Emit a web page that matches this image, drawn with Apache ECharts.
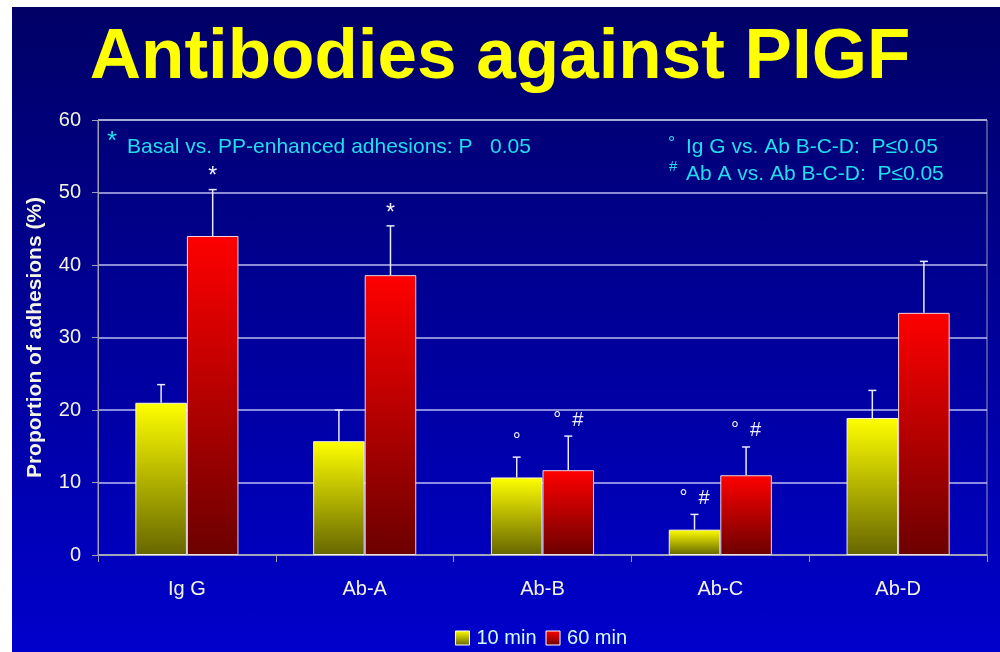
<!DOCTYPE html>
<html>
<head>
<meta charset="utf-8">
<script src="https://cdn.jsdelivr.net/npm/echarts@6/dist/echarts.min.js"></script>
<style>
html,body{margin:0;padding:0;background:#fff;width:1000px;height:652px;overflow:hidden;}
#chart{position:absolute;left:12px;top:7px;width:988px;height:645px;
background:linear-gradient(to bottom,#000066 0%,#0000cc 100%);}
</style>
</head>
<body>
<div id="chart"></div>
<script>
// ---- data ----
const categories = ['Ig G', 'Ab-A', 'Ab-B', 'Ab-C', 'Ab-D'];
const min10 = [21.0, 15.7, 10.7, 3.5, 18.9];
const min60 = [44.0, 38.6, 11.7, 11.0, 33.4];
const err10 = [2.5, 4.3, 2.8, 2.1, 3.8];
const err60 = [6.4, 6.8, 4.7, 3.9, 7.1];
const marks10 = ['', '', '°', '°  #', ''];
const marks60 = ['*', '*', '°  #', '°  #', ''];
const yTicks = [0, 10, 20, 30, 40, 50, 60];
const seriesNames = ['10 min', '60 min'];

const BAR_RATIO = 0.29;
const FONT = 'Arial, "Liberation Sans", sans-serif';

function grad(top, bottom) {
  return new echarts.graphic.LinearGradient(0, 0, 0, 1, [
    {offset: 0, color: top}, {offset: 1, color: bottom}
  ]);
}

function errRenderer(sign, errs, marks) {
  return function (params, api) {
    const i = api.value(0);
    const v = api.value(1);
    const e = errs[params.dataIndex];
    const p0 = api.coord([i, v]);
    const p1 = api.coord([i, v + e]);
    const band = api.size([1, 0])[0];
    const bw = band * BAR_RATIO;
    const cx = p0[0] + sign * bw / 2;
    const children = [
      {type: 'line', shape: {x1: cx, y1: p0[1], x2: cx, y2: p1[1]},
       style: {stroke: '#e8e8ff', lineWidth: 1.5}},
      {type: 'line', shape: {x1: cx - 4, y1: p1[1], x2: cx + 4, y2: p1[1]},
       style: {stroke: '#e8e8ff', lineWidth: 1.5}}
    ];
    const m = marks[params.dataIndex];
    if (m) {
      const isStar = m === '*';
      children.push({
        type: 'text',
        style: {
          text: m, x: cx, y: p1[1] - (isStar ? 1 : 6),
          align: 'center', verticalAlign: 'bottom',
          fill: '#f0f0ff', fontSize: isStar ? 23 : 20, fontFamily: FONT
        }
      });
    }
    return {type: 'group', children: children};
  };
}

const chart = echarts.init(document.getElementById('chart'), null, {renderer: 'canvas'});
chart.setOption({
  backgroundColor: 'transparent',
  animation: false,
  grid: {left: 86, right: 13, top: 113, bottom: 97, show: true,
         borderColor: '#9a9aaa', borderWidth: 1, backgroundColor: 'transparent'},
  graphic: [
    {type: 'text',
     style: {text: 'Antibodies against PIGF', x: 488, y: 51, align: 'center', verticalAlign: 'middle',
       fill: '#ffff00', fontSize: 71, fontWeight: 'bold', fontFamily: FONT}},
    {type: 'text', style: {text: '*', x: 95, y: 122, fill: '#22ddee', fontSize: 26, fontFamily: FONT}},
    {type: 'text', style: {text: 'Basal vs. PP-enhanced adhesions: P   0.05', x: 115, y: 140,
       verticalAlign: 'middle', fill: '#22ddee', fontSize: 21, fontFamily: FONT}},
    {type: 'text', style: {text: '°', x: 656, y: 128, fill: '#22ddee', fontSize: 18, fontFamily: FONT}},
    {type: 'text', style: {text: 'Ig G vs. Ab B-C-D:  P≤0.05', x: 674, y: 140,
       verticalAlign: 'middle', fill: '#22ddee', fontSize: 21, fontFamily: FONT}},
    {type: 'text', style: {text: '#', x: 657, y: 152, fill: '#22ddee', fontSize: 15, fontFamily: FONT}},
    {type: 'text', style: {text: 'Ab A vs. Ab B-C-D:  P≤0.05', x: 674, y: 167,
       verticalAlign: 'middle', fill: '#22ddee', fontSize: 21, fontFamily: FONT}}
  ],
  legend: {
    data: seriesNames, left: 438, top: 616, itemWidth: 14, itemHeight: 14, itemGap: 9,
    icon: 'rect',
    itemStyle: {borderColor: '#ffffff', borderWidth: 1},
    textStyle: {color: '#ccffff', fontSize: 20, fontFamily: FONT, padding: [0, 0, 0, 2]}
  },
  xAxis: {
    type: 'category', data: categories,
    axisLine: {lineStyle: {color: '#a0a0b0', width: 1.5}},
    axisTick: {show: true, alignWithLabel: false, length: 7, lineStyle: {color: '#a0a0b0'}},
    axisLabel: {color: '#f4f4e4', fontSize: 20, fontFamily: FONT, margin: 24},
    splitLine: {show: false}
  },
  yAxis: {
    type: 'value', min: 0, max: 60, interval: 10,
    name: 'Proportion of adhesions (%)', nameLocation: 'middle', nameRotate: 90, nameGap: 52,
    nameTextStyle: {color: '#f4f4e4', fontSize: 21, fontWeight: 'bold', fontFamily: FONT},
    axisLine: {show: true, lineStyle: {color: '#a0a0b0', width: 1}},
    axisTick: {show: true, length: 6, lineStyle: {color: '#a0a0b0'}},
    axisLabel: {color: '#f4f4e4', fontSize: 20, fontFamily: FONT, margin: 17,
      formatter: function (v) { return yTicks.indexOf(v) >= 0 ? String(v) : ''; }},
    splitLine: {show: true, lineStyle: {color: 'rgba(220,220,255,0.85)', width: 1.5}}
  },
  series: [
    {name: seriesNames[0], type: 'bar', data: min10, barWidth: (BAR_RATIO * 100) + '%', barGap: '0%',
     itemStyle: {color: grad('#ffff00', '#666600'), borderColor: 'rgba(255,255,240,0.9)', borderWidth: 1}},
    {name: seriesNames[1], type: 'bar', data: min60, barWidth: (BAR_RATIO * 100) + '%', barGap: '0%',
     itemStyle: {color: grad('#ff0000', '#6c0000'), borderColor: 'rgba(255,235,235,0.9)', borderWidth: 1}},
    {name: 'err10', type: 'custom', renderItem: errRenderer(-1, err10, marks10),
     data: min10.map(function (v, i) { return [i, v]; }), z: 5},
    {name: 'err60', type: 'custom', renderItem: errRenderer(1, err60, marks60),
     data: min60.map(function (v, i) { return [i, v]; }), z: 5}
  ]
});
</script>
</body>
</html>
